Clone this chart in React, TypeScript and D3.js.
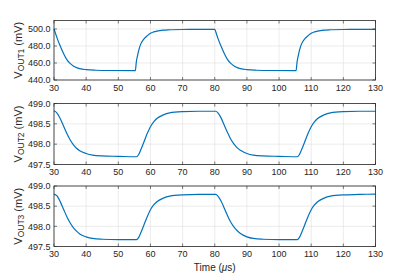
import React, { useEffect, useRef } from 'react';
import * as d3 from 'd3';

// time axis (µs) for each trace
const out1Time = [30, 30.5, 31, 31.5, 32, 33, 34, 35, 36, 37, 38, 40, 43, 47, 55.3,
  55.6, 56, 56.5, 57, 58, 59, 60, 61, 62, 64, 66, 70, 75, 80,
  80.5, 81, 81.5, 82, 83, 84, 85, 86, 87, 88, 90, 93, 97, 105.3,
  105.6, 106, 106.5, 107, 108, 109, 110, 111, 112, 114, 116, 120, 125, 130];
const out1Values = [500, 494.5, 489, 484, 479.5, 471, 464, 459.5, 456.5, 454.6, 453.4, 452.2, 451.5, 451.2, 451.1,
  461, 469, 477, 482.5, 488.5, 492, 495, 496.6, 497.6, 498.7, 499.1, 499.4, 499.5, 499.5,
  494.5, 489, 484, 479.5, 471, 464, 459.5, 456.5, 454.6, 453.4, 452.2, 451.5, 451.2, 451.1,
  461, 469, 477, 482.5, 488.5, 492, 495, 496.6, 497.6, 498.7, 499.1, 499.4, 499.5, 499.5];

const out23Time = [30, 31, 32, 33, 34, 35, 36, 37, 38, 40, 42, 45, 50, 55.7,
  56.3, 57, 58, 59, 60, 61, 62, 64, 66, 70, 75, 80.3,
  81, 82, 83, 84, 85, 86, 87, 88, 90, 92, 95, 100, 105.7,
  106.3, 107, 108, 109, 110, 111, 112, 114, 116, 120, 125, 130];
const out2Values = [498.82, 498.76, 498.62, 498.44, 498.26, 498.11, 497.99, 497.9, 497.84, 497.77, 497.73, 497.71, 497.7, 497.69,
  497.74, 497.86, 498.06, 498.26, 498.43, 498.55, 498.63, 498.72, 498.77, 498.8, 498.81, 498.81,
  498.77, 498.64, 498.46, 498.28, 498.12, 498.0, 497.91, 497.85, 497.77, 497.73, 497.71, 497.7, 497.69,
  497.74, 497.86, 498.06, 498.26, 498.43, 498.55, 498.63, 498.72, 498.77, 498.8, 498.81, 498.81];
const out3Values = [498.8, 498.75, 498.6, 498.42, 498.24, 498.09, 497.97, 497.88, 497.81, 497.74, 497.7, 497.68, 497.67, 497.67,
  497.72, 497.84, 498.04, 498.24, 498.41, 498.53, 498.61, 498.7, 498.75, 498.78, 498.79, 498.79,
  498.75, 498.62, 498.44, 498.26, 498.1, 497.98, 497.89, 497.82, 497.74, 497.7, 497.68, 497.67, 497.67,
  497.72, 497.84, 498.04, 498.24, 498.41, 498.53, 498.61, 498.7, 498.75, 498.78, 498.79, 498.8];

const xTicks = [30, 40, 50, 60, 70, 80, 90, 100, 110, 120, 130];
const out1Ticks = [440, 460, 480, 500];
const out23Ticks = [497.5, 498, 498.5, 499];

const panels = [
  { sub: 'OUT1', time: out1Time, values: out1Values, domain: [440, 510], ticks: out1Ticks, top: 20.5, bottom: 80 },
  { sub: 'OUT2', time: out23Time, values: out2Values, domain: [497.5, 499], ticks: out23Ticks, top: 103.5, bottom: 164.5 },
  { sub: 'OUT3', time: out23Time, values: out3Values, domain: [497.5, 499], ticks: out23Ticks, top: 186, bottom: 246.5 },
];

const W = 415, H = 277;
const left = 54, right = 375.5;
const font = '"Liberation Sans", Arial, Helvetica, sans-serif';
const ink = '#262626';

export default function App() {
  const svgRef = useRef<SVGSVGElement>(null);

  useEffect(() => {
    const svg = d3.select(svgRef.current);
    svg.selectAll('*').remove();

    const x = d3.scaleLinear().domain([30, 130]).range([left, right]);

    panels.forEach(p => {
      const y = d3.scaleLinear().domain(p.domain).range([p.bottom, p.top]);
      const g = svg.append('g');

      g.append('rect')
        .attr('x', left).attr('y', p.top)
        .attr('width', right - left).attr('height', p.bottom - p.top)
        .attr('fill', 'white');

      // grid
      g.selectAll('.gx').data(xTicks).enter().append('line')
        .attr('x1', d => x(d)).attr('x2', d => x(d))
        .attr('y1', p.top).attr('y2', p.bottom)
        .attr('stroke', '#dfdfdf').attr('stroke-width', 0.6);
      g.selectAll('.gy').data(p.ticks).enter().append('line')
        .attr('x1', left).attr('x2', right)
        .attr('y1', d => y(d)).attr('y2', d => y(d))
        .attr('stroke', '#dfdfdf').attr('stroke-width', 0.6);

      // trace
      const line = d3.line<number>()
        .x((d, i) => x(p.time[i]))
        .y(d => y(d))
        .curve(d3.curveMonotoneX);
      g.append('path')
        .attr('d', line(p.values))
        .attr('fill', 'none')
        .attr('stroke', '#0072BD')
        .attr('stroke-width', 1.2);

      // ticks, mirrored on all sides
      const tl = 3;
      xTicks.forEach(t => {
        g.append('line').attr('x1', x(t)).attr('x2', x(t)).attr('y1', p.bottom).attr('y2', p.bottom - tl)
          .attr('stroke', ink).attr('stroke-width', 0.6);
        g.append('line').attr('x1', x(t)).attr('x2', x(t)).attr('y1', p.top).attr('y2', p.top + tl)
          .attr('stroke', ink).attr('stroke-width', 0.6);
      });
      p.ticks.forEach(t => {
        g.append('line').attr('x1', left).attr('x2', left + tl).attr('y1', y(t)).attr('y2', y(t))
          .attr('stroke', ink).attr('stroke-width', 0.6);
        g.append('line').attr('x1', right).attr('x2', right - tl).attr('y1', y(t)).attr('y2', y(t))
          .attr('stroke', ink).attr('stroke-width', 0.6);
      });

      g.append('rect')
        .attr('x', left).attr('y', p.top)
        .attr('width', right - left).attr('height', p.bottom - p.top)
        .attr('fill', 'none').attr('stroke', ink).attr('stroke-width', 0.8);

      // tick labels
      g.selectAll('.xl').data(xTicks).enter().append('text')
        .attr('x', d => x(d)).attr('y', p.bottom + 10.5)
        .attr('text-anchor', 'middle')
        .attr('font-family', font).attr('font-size', 9).attr('fill', ink)
        .text(d => d3.format('d')(d));
      g.selectAll('.yl').data(p.ticks).enter().append('text')
        .attr('x', left - 3.5).attr('y', d => y(d) + 3.2)
        .attr('text-anchor', 'end')
        .attr('font-family', font).attr('font-size', 9).attr('fill', ink)
        .text(d => d3.format('.1f')(d));

      // y label
      const cy = (p.top + p.bottom) / 2;
      const yl = g.append('text')
        .attr('transform', `translate(21.5,${cy}) rotate(-90)`)
        .attr('text-anchor', 'middle')
        .attr('font-family', font).attr('font-size', 11).attr('fill', ink);
      yl.append('tspan').text('V');
      yl.append('tspan').attr('font-size', 8.5).attr('dy', 2.8).text(p.sub);
      yl.append('tspan').attr('dy', -2.8).text(' (mV)');
    });

    const xl = svg.append('text')
      .attr('x', (left + right) / 2).attr('y', 271)
      .attr('text-anchor', 'middle')
      .attr('font-family', font).attr('font-size', 10).attr('fill', ink);
    xl.append('tspan').text('Time (');
    xl.append('tspan').attr('font-style', 'italic').text('\u03bc');
    xl.append('tspan').text('s)');
  }, []);

  return (
    <svg ref={svgRef} width={W} height={H}
      style={{ position: 'absolute', left: 0, top: 0, background: 'white' }} />
  );
}
